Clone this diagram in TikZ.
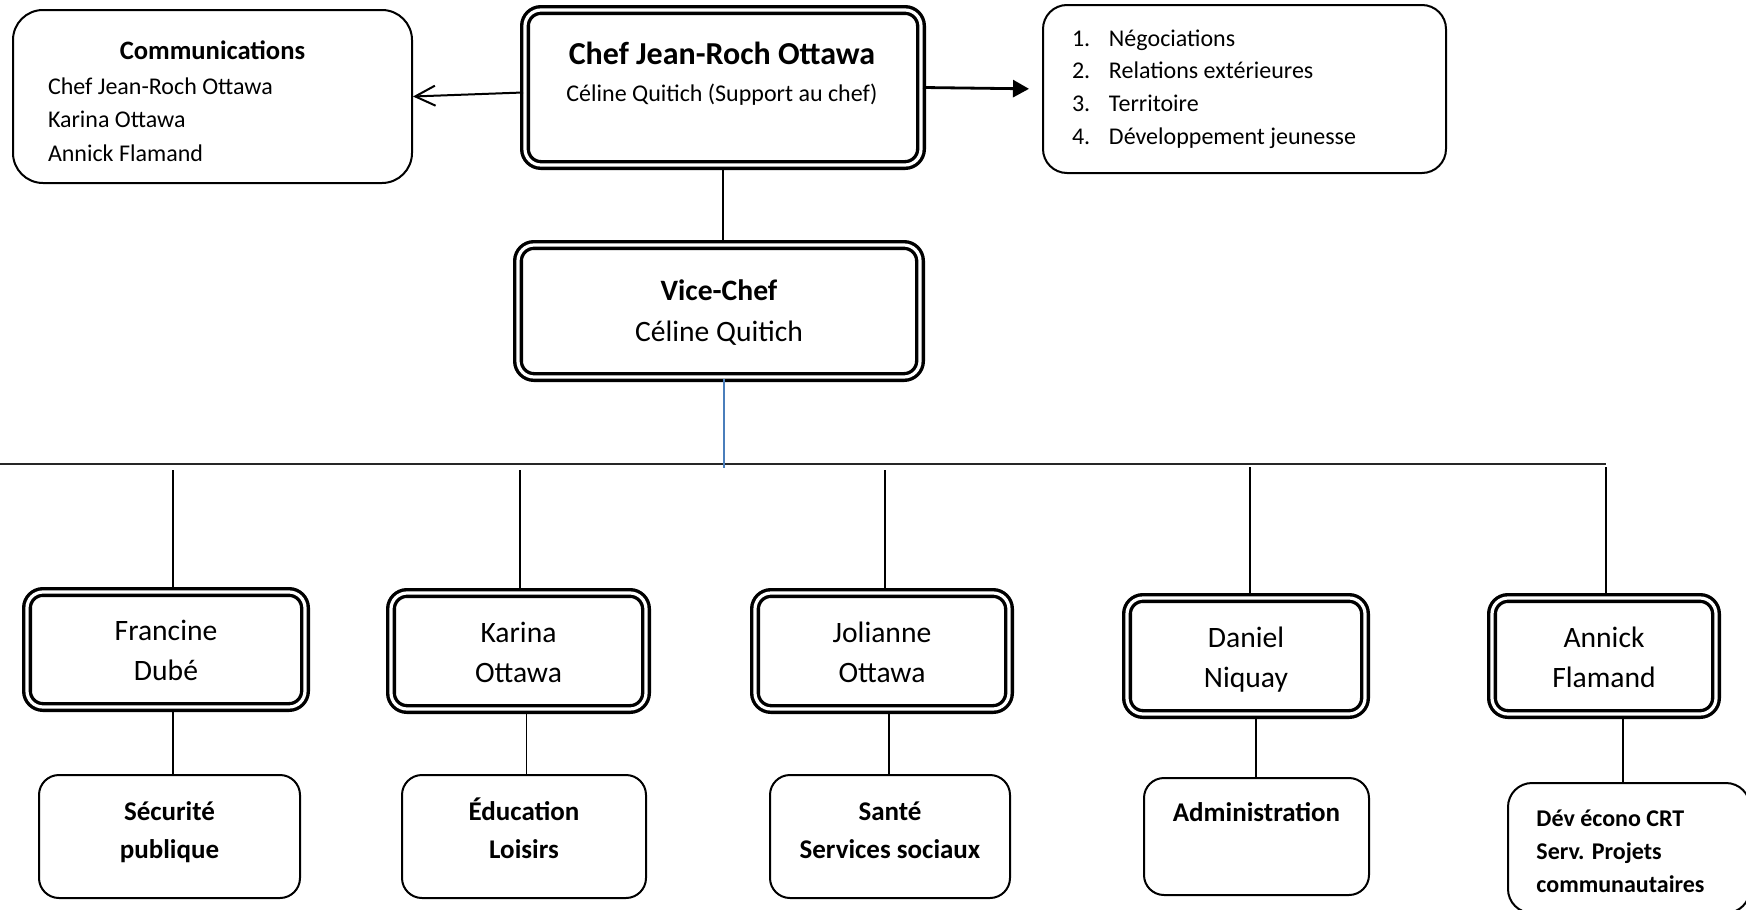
\documentclass[tikz,border=0pt]{standalone}
\usepackage{fontspec}
\setmainfont{Carlito}
\usepackage{tikz}
\usetikzlibrary{arrows.meta}
\definecolor{lienbleu}{HTML}{4A7EBB}

\begin{document}
\begin{tikzpicture}[x=0.5pt, y=-0.5pt,
	boite/.style={draw=black, line width=1pt, rounded corners=10pt, inner sep=0pt},
	cadre/.style={draw=black, double=white, line width=1.7pt, double distance=1.6pt, rounded corners=8pt, inner sep=0pt, outer sep=1pt, align=flush center},
	nom/.style={font=\fontsize{14.8}{20}\selectfont, text height=31.2pt, text depth=0pt},
	dept/.style={font=\fontsize{13.5}{19}\selectfont\bfseries, align=flush center, text height=21.7pt, text depth=0pt},
	lien/.style={black, line width=0.7pt}]
	\useasboundingbox (0,0) rectangle (1746,910);
	\clip (0,0) rectangle (1746,910);

	\node[cadre, minimum width=198pt, minimum height=77.5pt] (chef) at (723,87.5) {};
	\node[font=\fontsize{16}{19}\selectfont\bfseries] (chefnom) at (722,53) {Chef Jean-Roch Ottawa};
	\node[font=\fontsize{12}{14}\selectfont] (chefsup) at (722,95) {Céline Quitich (Support au chef)};
	\node[boite, rounded corners=15pt, minimum width=199.5pt, minimum height=86.5pt] (comm) at (212.5,96.5) {};
	\node[anchor=north, inner sep=0pt, text width=164.5pt, align=flush left, font=\fontsize{12}{16.7}\selectfont] (commtexte) at (212.5,40)
		{{\centering\fontsize{13.3}{17}\selectfont\bfseries Communications\par}\vspace{1pt}Chef Jean-Roch Ottawa\\Karina Ottawa\\Annick Flamand};
	\node[boite, rounded corners=12pt, minimum width=201.5pt, minimum height=84pt, text width=172.5pt, align=flush left, font=\fontsize{12}{16.4}\selectfont] (taches) at (1244.5,89)
		{\makebox[18.5pt][l]{1.}Négociations\\\makebox[18.5pt][l]{2.}Relations extérieures\\\makebox[18.5pt][l]{3.}Territoire\\\makebox[18.5pt][l]{4.}Développement jeunesse};
	\node[cadre, minimum width=201pt, minimum height=66pt, font=\fontsize{14.8}{20.5}\selectfont, text height=30.6pt, text depth=0pt] (vice) at (719,311) {\textbf{Vice-Chef}\\Céline Quitich};

	\node[cadre, nom, minimum width=139pt, minimum height=57.5pt] (francine) at (166,649.5) {Francine\\Dubé};
	\node[cadre, nom, minimum width=127.5pt, minimum height=58pt] (karina) at (518.5,651) {Karina\\Ottawa};
	\node[cadre, nom, minimum width=127pt, minimum height=58pt] (jolianne) at (882,651) {Jolianne\\Ottawa};
	\node[cadre, nom, minimum width=119pt, minimum height=58pt] (daniel) at (1246,656) {Daniel\\Niquay};
	\node[cadre, nom, minimum width=112pt, minimum height=58pt] (annick) at (1604,656) {Annick\\Flamand};

	\node[boite, dept, minimum width=130.5pt, minimum height=61.5pt] (securite) at (169.5,836.5) {Sécurité\\publique};
	\node[boite, dept, minimum width=122pt, minimum height=61.5pt] (education) at (524,836.5) {Éducation\\Loisirs};
	\node[boite, dept, minimum width=120pt, minimum height=61.5pt] (sante) at (890,836.5) {Santé\\Services sociaux};
	\node[boite, dept, minimum width=112.5pt, minimum height=58.5pt, text height=8pt, text depth=23pt] (admin) at (1256.5,836.5) {Administration};
	\node[boite, rounded corners=12pt, minimum width=121pt, minimum height=65pt] (dev) at (1629,848) {};
	\node[anchor=north west, inner sep=0pt, text width=90.5pt, align=flush left, font=\fontsize{12}{16.5}\selectfont\bfseries] (devtexte) at (1536,809.5) {Dév écono CRT\\Serv. Projets\\communautaires};

	\draw[black, line width=1pt, -{Straight Barb[length=10pt,width=10pt]}] ([yshift=-2.5pt]chef.west) -- (comm.east);
	\draw[black, line width=1.4pt, shorten >=6.5pt, -{Triangle[length=8pt,width=8.5pt]}] (chef.east) -- (taches.west);
	\draw[lien] (chef.south) -- (chef.south |- vice.north);

	\coordinate (bleubas) at (724,468);
	\coordinate (barreG) at (-5,464);
	\coordinate (barreD) at (1606,464);
	\draw[black!85, line width=1.1pt] (barreG) -- (barreD);
	\draw[lienbleu, line width=1pt] (bleubas |- vice.south) -- (bleubas);

	\coordinate (d1) at (173,470);
	\coordinate (d2) at (520,470);
	\coordinate (d3) at (885,470);
	\coordinate (d4) at (1250,467);
	\coordinate (d5) at (1606,467);
	\draw[lien] (d1) -- (d1 |- francine.north);
	\draw[lien] (d2) -- (d2 |- karina.north);
	\draw[lien] (d3) -- (d3 |- jolianne.north);
	\draw[lien] (d4) -- (d4 |- daniel.north);
	\draw[lien] (d5) -- (d5 |- annick.north);

	\draw[lien] ([xshift=3.5pt]francine.south) -- ([xshift=3.5pt]francine.south |- securite.north);
	\draw[lien] ([xshift=4pt]karina.south) -- ([xshift=4pt]karina.south |- education.north);
	\draw[lien] ([xshift=3.5pt]jolianne.south) -- ([xshift=3.5pt]jolianne.south |- sante.north);
	\draw[lien] ([xshift=5pt]daniel.south) -- ([xshift=5pt]daniel.south |- admin.north);
	\draw[lien] ([xshift=9.5pt]annick.south) -- ([xshift=9.5pt]annick.south |- dev.north);
\end{tikzpicture}
\end{document}
